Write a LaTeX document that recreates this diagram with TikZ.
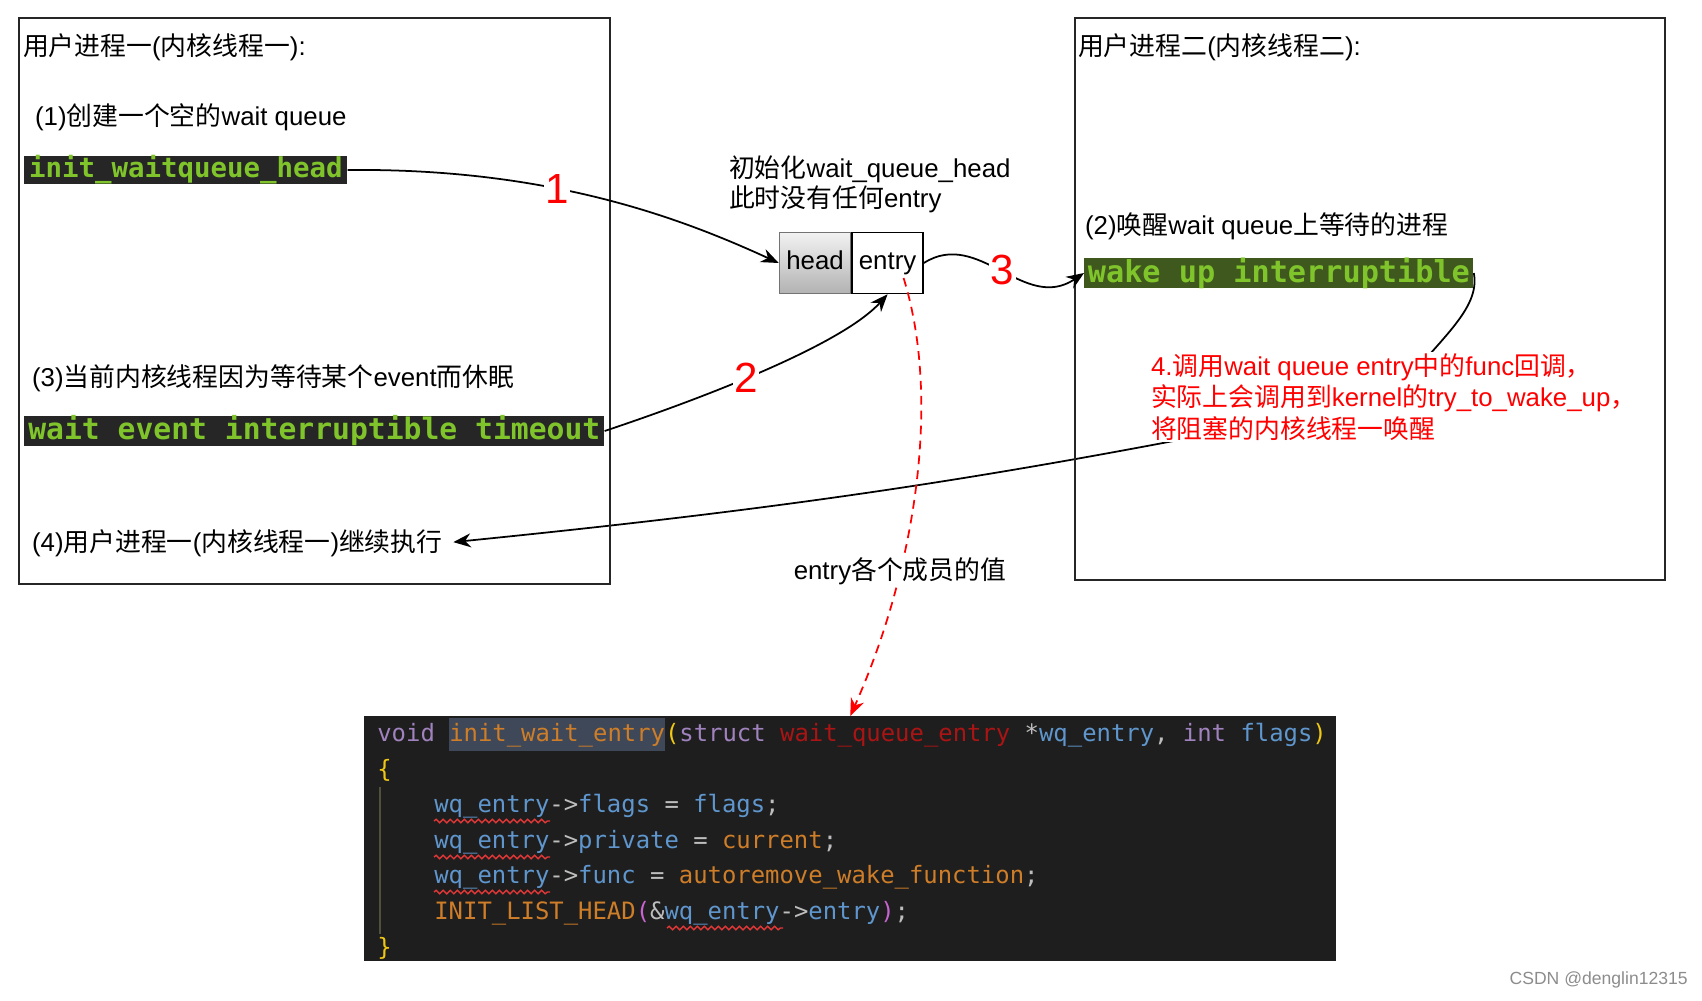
\documentclass[tikz,border=0pt]{standalone}
\usepackage{fontspec}
\usepackage{xcolor}
\usepackage{tikz}
\usetikzlibrary{arrows.meta,positioning,backgrounds,decorations.pathmorphing}
\setmainfont{Liberation Sans}
\newfontfamily\cjk{Noto Sans CJK SC}
\newfontfamily\codefont{DejaVu Sans Mono}
\newcommand{\zh}[1]{{\cjk #1}}
\definecolor{termbg}   {RGB}{38,38,38}
\definecolor{termgreen}{RGB}{128,196,44}
\definecolor{olivebg}  {RGB}{62,88,30}
\definecolor{codebg}   {RGB}{30,30,30}
\definecolor{ckw}      {RGB}{160,130,190}
\definecolor{cfn}      {RGB}{206,125,40}
\definecolor{ctype}    {RGB}{170,20,20}
\definecolor{cvar}     {RGB}{95,150,205}
\definecolor{cop}      {RGB}{190,190,190}
\definecolor{cbr}      {RGB}{240,200,20}
\definecolor{cpar}     {RGB}{200,100,210}
\definecolor{chl}      {RGB}{62,72,88}
\definecolor{squig}    {RGB}{225,55,55}
\definecolor{guidecol} {RGB}{80,80,60}
\definecolor{headtop}  {RGB}{242,242,242}
\definecolor{headbot}  {RGB}{178,178,178}
%% code colouring
\newcommand{\cdkw}[1]{\textcolor{ckw}{#1}}
\newcommand{\cdfn}[1]{\textcolor{cfn}{#1}}
\newcommand{\cdty}[1]{\textcolor{ctype}{#1}}
\newcommand{\cdva}[1]{\textcolor{cvar}{#1}}
\newcommand{\cdop}[1]{\textcolor{cop}{#1}}
\newcommand{\cdbr}[1]{\textcolor{cbr}{#1}}
\newcommand{\cdpa}[1]{\textcolor{cpar}{#1}}
\tikzset{
  panel/.style  ={draw=black!85, line width=1.1pt, anchor=north west, inner sep=0pt},
  lbl/.style    ={inner sep=1pt, font=\fontsize{14.7}{17.6}\selectfont},
  txt/.style    ={lbl, anchor=west},
  redtxt/.style ={txt, text=red, align=left, fill=white,
                  font=\fontsize{14.7}{17.9}\selectfont},
  termbox/.style={fill=termbg, text=termgreen, inner xsep=2pt, inner ysep=0pt,
                  anchor=west, font=\codefont\bfseries\fontsize{#1}{#1}\selectfont},
  cell/.style   ={draw, line width=0.9pt, minimum width=1.42cm, minimum height=1.22cm,
                  inner sep=0pt, text height=0.9em, text depth=0.18em,
                  font=\fontsize{14.7}{17.6}\selectfont},
  num/.style    ={text=red, fill=white, inner sep=1pt, font=\fontsize{24}{24}\selectfont},
  arr/.style    ={-{Stealth[length=10pt,width=8pt]}, line width=1pt},
  darr/.style   ={-{Stealth[length=10pt,width=8pt]}, red, line width=1pt,
                  dash pattern=on 5pt off 3.5pt},
  codeln/.style ={anchor=base west, inner sep=0pt, font=\codefont\fontsize{13.6}{16}\selectfont},
  wavy/.style   ={draw=squig, line width=0.8pt, decorate,
                  decoration={snake, amplitude=1pt, segment length=4pt}},
  guide/.style  ={draw=guidecol, line width=0.8pt},
}

\begin{document}
\begin{tikzpicture}[x=0.02cm,y=-0.02cm]
  \useasboundingbox (0,0) rectangle (1702,1000);

  % process one
  \node[panel, minimum width=11.82cm, minimum height=11.32cm] (p1) at (18,17) {};
  \node[txt] (t1) at (21,47) {\zh{用户进程一}(\zh{内核线程一}):};
  \node[txt] (s1) at (33,117) {(1)\zh{创建一个空的}wait queue};
  \node[termbox=15.6, minimum width=6.46cm] (initq) at (24,170) {init\_waitqueue\_head};
  \node[txt] (s3) at (30,378) {(3)\zh{当前内核线程因为等待某个}event\zh{而休眠}};
  \node[termbox=16.9, minimum width=11.6cm] (waitev) at (24,431) {wait event interruptible timeout};
  \node[txt] (s4) at (30,543) {(4)\zh{用户进程一}(\zh{内核线程一})\zh{继续执行}};

  % process two
  \node[panel, minimum width=11.8cm, minimum height=11.24cm] (p2) at (1074,17) {};
  \node[txt] (t2) at (1076,47) {\zh{用户进程二}(\zh{内核线程二}):};
  \node[txt] (s2) at (1083,226) {(2)\zh{唤醒}wait queue\zh{上等待的进程}};
  \node[termbox=17.2, fill=olivebg, minimum width=7.78cm] (wakeup) at (1084,273) {wake up interruptible};
  \node[redtxt] (lab4) at (1149,397) {4.\zh{调用}wait queue entry\zh{中的}func\zh{回调，}\\
    \zh{实际上会调用到}kernel\zh{的}try\_to\_wake\_up\zh{，}\\
    \zh{将阻塞的内核线程一唤醒}};

  % wait queue head
  \node[txt, align=left, font=\fontsize{14.7}{17}\selectfont] (note) at (727,184)
    {\zh{初始化}wait\_queue\_head\\\zh{此时没有任何}entry};
  \node[cell, top color=headtop, bottom color=headbot, draw=black!55] (head) at (815,263) {head};
  \node[cell, fill=white, right=0pt of head] (entry) {entry};
  \coordinate (dstart) at ([xshift=0.32cm,yshift=-0.3cm]entry.center);

  % init_wait_entry source
  \node[fill=codebg, inner sep=0pt, minimum width=19.44cm, minimum height=4.9cm, anchor=north west] (code) at (364,716) {};
  \draw[guide] (380,787) -- (380,934);
  \node[codeln] (c1) at (377,741) {\cdkw{void} {\setlength{\fboxsep}{0pt}\colorbox{chl}{\rule[-5.7pt]{0pt}{18.7pt}\cdfn{init\_wait\_entry}}}\cdbr{(}\cdkw{struct} \cdty{wait\_queue\_entry} \cdop{*}\cdva{wq\_entry}\cdop{,} \cdkw{int} \cdva{flags}\cdbr{)}};
  \node[codeln] (c2) at (377,777) {\cdbr{\{}};
  \node[codeln] (c3) at (434,812) {\cdva{wq\_entry}\cdop{->}\cdva{flags} \cdop{=} \cdva{flags}\cdop{;}};
  \node[codeln] (c4) at (434,848) {\cdva{wq\_entry}\cdop{->}\cdva{private} \cdop{=} \cdfn{current}\cdop{;}};
  \node[codeln] (c5) at (434,883) {\cdva{wq\_entry}\cdop{->}\cdva{func} \cdop{=} \cdfn{autoremove\_wake\_function}\cdop{;}};
  \node[codeln] (c6) at (434,919) {\cdfn{INIT\_LIST\_HEAD}\cdpa{(}\cdop{\&}\cdva{wq\_entry}\cdop{->}\cdva{entry}\cdpa{)}\cdop{;}};
  \node[codeln] (c7) at (377,955) {\cdbr{\}}};
  \foreach \ux/\uy in {434/821, 434/857, 434/892, 667/928}
    \draw[wavy] (\ux,\uy) -- ++(116,0);

  % connectors
  \draw[arr] (initq.east) .. controls +(200,-2) and +(-100,-46) .. (head.west) node[num, pos=0.4] (n1) {1};
  \draw[arr] (waitev.east) .. controls +(90,-30) and +(-47,52) .. (entry.south) node[num, pos=0.45] (n2) {2};
  \draw[arr] (entry.east) .. controls +(55,-35) and +(-60,40) .. (wakeup.west) node[num, pos=0.5] (n3) {3};
  \begin{pgfonlayer}{background}
    \draw[arr, shorten >=5pt] (wakeup.east) .. controls +(7,37) and +(44,-57) .. (lab4.center)
      to[bend left=3] (s4.east);
  \end{pgfonlayer}
  \draw[darr] (dstart) .. controls +(38,122) and +(65,-146) .. (code.north)
    node[lbl, text=black, fill=white, pos=0.68] (memb) {entry\zh{各个成员的值}};

  \node[anchor=east, text=black!45, inner sep=0pt, font=\fontsize{10}{12}\selectfont] (mark) at (1688,980) {CSDN @denglin12315};
\end{tikzpicture}
\end{document}
